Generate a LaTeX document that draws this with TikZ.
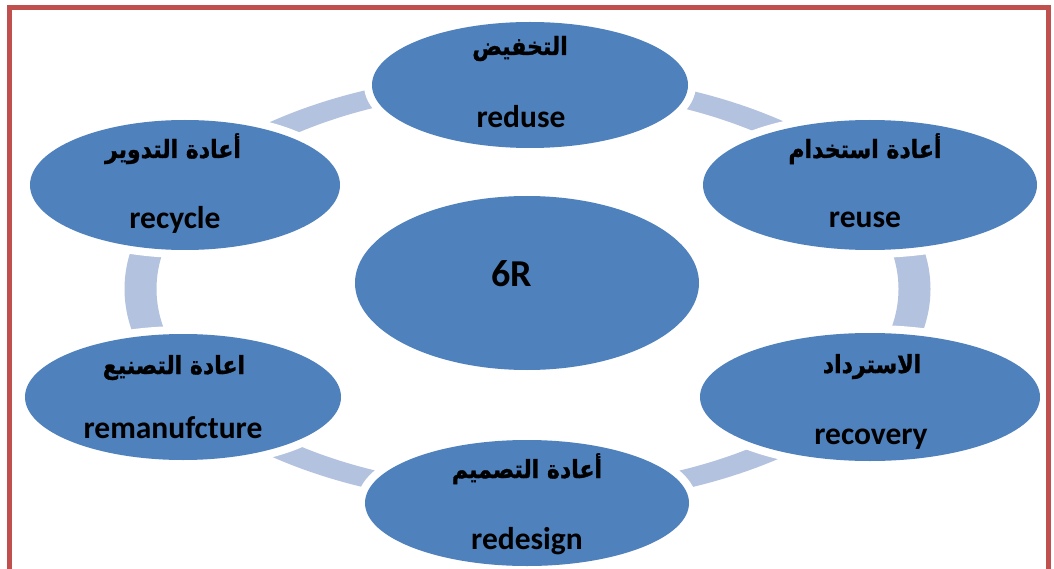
\documentclass[tikz,border=0pt]{standalone}
\usepackage{fontspec}
\setmainfont{Carlito}
\newfontfamily\arabicfont[Script=Arabic, FakeStretch=0.88, BoldFeatures={FakeBold=1.2}]{DejaVu Sans}
\TeXXeTstate=1
\usetikzlibrary{shapes.geometric}

\definecolor{nodeblue}{HTML}{4F81BD}
\definecolor{ringblue}{HTML}{B3C2DE}
\definecolor{framered}{HTML}{C0504D}

\begin{document}
\begin{tikzpicture}[x=1pt,y=-1pt,
  rnode/.style={ellipse, fill=nodeblue, inner sep=0pt,
    preaction={draw=white, line width=16pt}},
  entext/.style={anchor=base, inner sep=0pt, text=black,
    font=\fontsize{31.5}{36}\selectfont\bfseries},
  artext/.style={anchor=base, inner sep=0pt, text=black,
    font=\arabicfont\bfseries\fontsize{25}{30}\selectfont},
]
\useasboundingbox (0,0) rectangle (1054,569);
\clip (0,0) rectangle (1054,569);

% cycle ring behind the six stages
\coordinate (ringc) at (527.5,289);
\fill[ringblue, even odd rule]
  (ringc) ellipse [x radius=403, y radius=217]
  (ringc) ellipse [x radius=371, y radius=199];

% stages
\node[rnode, minimum width=316pt, minimum height=126pt] (reduse)  at (530,85)  {};
\node[rnode, minimum width=334pt, minimum height=130pt] (reuse)   at (870,185) {};
\node[rnode, minimum width=310pt, minimum height=130pt] (recycle) at (185,185) {};
\node[rnode, minimum width=344pt, minimum height=174pt] (center)  at (527,283) {};
\node[rnode, minimum width=316pt, minimum height=126pt] (reman)   at (183,397) {};
\node[rnode, minimum width=340pt, minimum height=128pt] (recov)   at (870,397) {};
\node[rnode, minimum width=324pt, minimum height=126pt] (redes)   at (527,503) {};

% labels
\node[artext] (reduseAr) at (520,55)  {\beginR التخفيض\endR};
\node[entext] (reduseEn) at (521,128) {reduse};
\node[artext] (reuseAr)  at (865,158) {\beginR أعادة استخدام\endR};
\node[entext] (reuseEn)  at (865,228) {reuse};
\node[artext] (recycAr)  at (173,158) {\beginR أعادة التدوير\endR};
\node[entext] (recycEn)  at (175,229) {recycle};
\node[entext, font=\fontsize{38}{44}\selectfont\bfseries] (centerEn) at (512,287) {6R};
\node[artext] (remanAr)  at (174,374) {\beginR اعادة التصنيع\endR};
\node[entext] (remanEn)  at (173,438) {remanufcture};
\node[artext] (recovAr)  at (872,373) {\beginR الاسترداد\endR};
\node[entext] (recovEn)  at (871,444) {recovery};
\node[artext] (redesAr)  at (527,478) {\beginR أعادة التصميم\endR};
\node[entext] (redesEn)  at (527,549) {redesign};

% outer frame
\draw[framered, line width=5pt] (9.5,700) -- (9.5,7.5) -- (1048,7.5) -- (1048,700);
\end{tikzpicture}
\end{document}
